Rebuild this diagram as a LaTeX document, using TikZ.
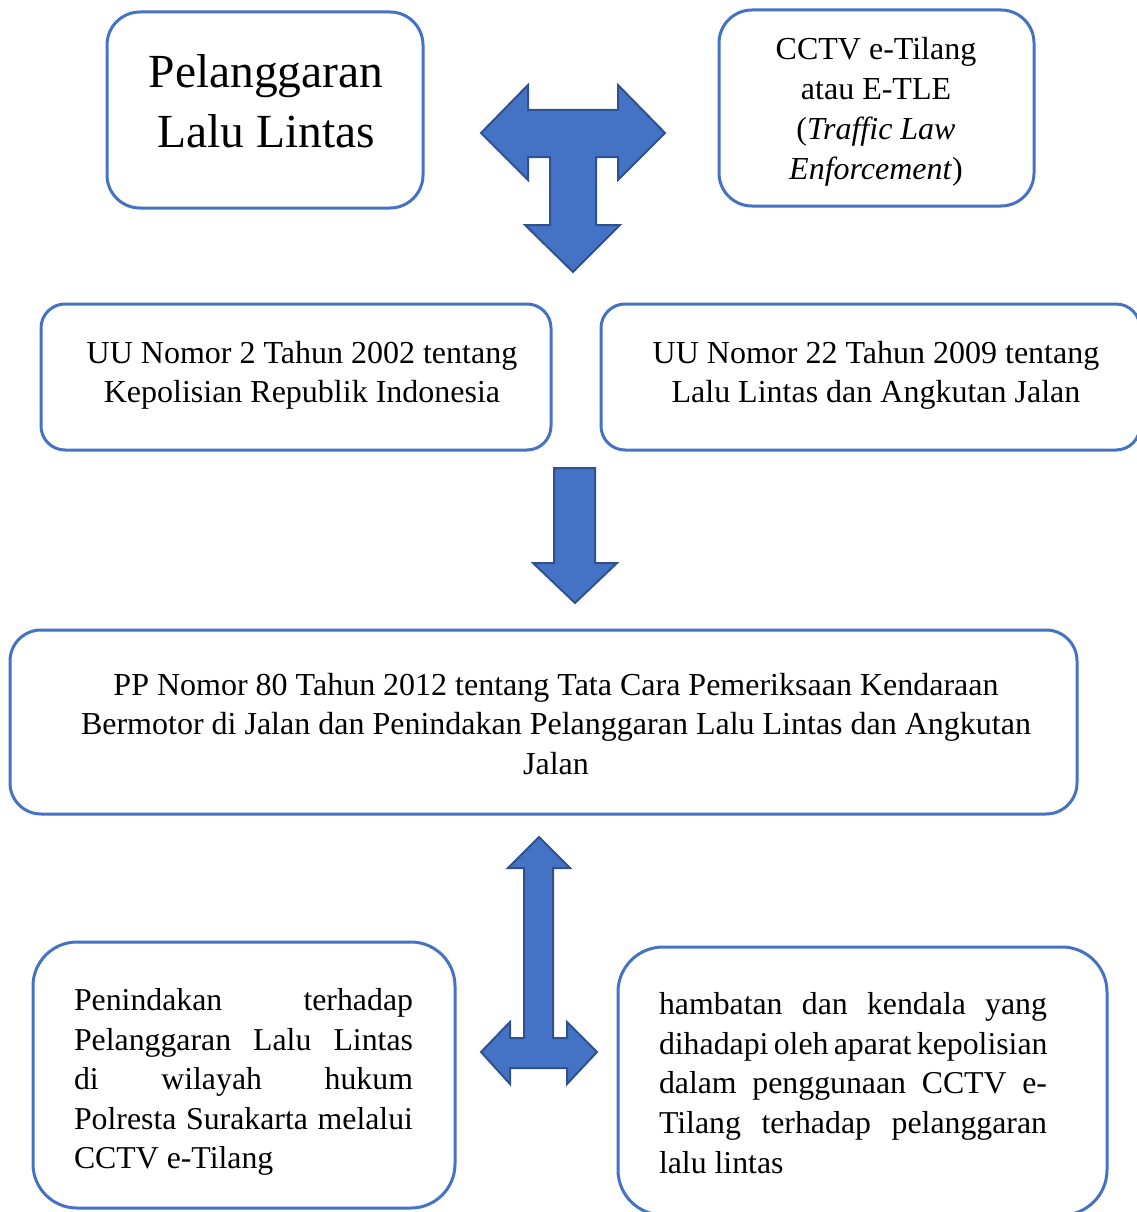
\documentclass[tikz,border=0pt]{standalone}
\usepackage{fontspec}
\setmainfont{Liberation Serif}
\definecolor{boxblue}{HTML}{4472C4}
\definecolor{arrowline}{HTML}{2F528F}
\begin{document}
\begin{tikzpicture}[x=1pt,y=-1pt,
  box/.style={draw=boxblue, line width=3pt, rectangle, inner sep=0pt, fill=white},
  blockarrow/.style={fill=boxblue, draw=arrowline, line width=2pt, line join=miter},
  txt/.style={inner sep=0pt, align=center, font=\fontsize{32}{39.5}\selectfont},
  bigtxt/.style={inner sep=0pt, align=center, font=\fontsize{47.5}{60}\selectfont},
  justtxt/.style={inner sep=0pt, align=left, font=\fontsize{31.8}{39.6}\selectfont}]
\useasboundingbox (0,0) rectangle (1136,1212);

% boxes
\node[box, minimum width=316pt, minimum height=196pt, rounded corners=33pt] (b1) at (265,110) {};
\node[box, minimum width=315pt, minimum height=196pt, rounded corners=33pt] (b2) at (876.5,108) {};
\node[box, minimum width=510pt, minimum height=146pt, rounded corners=24pt] (b3) at (296,377) {};
\node[box, minimum width=539pt, minimum height=146pt, rounded corners=24pt] (b4) at (870.5,377) {};
\node[box, minimum width=1067pt, minimum height=184pt, rounded corners=31pt] (b5) at (543.5,722) {};
\node[box, minimum width=422pt, minimum height=266pt, rounded corners=44pt] (b6) at (244,1075) {};
\node[box, minimum width=489pt, minimum height=268pt, rounded corners=45pt] (b7) at (862.5,1081) {};

% texts
\node[bigtxt] (t1) at (266,101) {Pelanggaran\\Lalu Lintas};
\node[txt, font=\fontsize{32}{40}\selectfont] (t2) at (876,112) {CCTV e-Tilang\\atau E-TLE\\(\textit{Traffic Law}\\\textit{Enforcement})};
\node[txt] (t3) at (302,375.5) {UU Nomor 2 Tahun 2002 tentang\\Kepolisian Republik Indonesia};
\node[txt] (t4) at (876,375.5) {UU Nomor 22 Tahun 2009 tentang\\Lalu Lintas dan Angkutan Jalan};
\node[txt] (t5) at (556,724) {PP Nomor 80 Tahun 2012 tentang Tata Cara Pemeriksaan Kendaraan\\Bermotor di Jalan dan Penindakan Pelanggaran Lalu Lintas dan Angkutan\\Jalan};
\node[justtxt] (t6) at (243.5,1082) {%
\makebox[339pt][s]{Penindakan terhadap}\\
\makebox[339pt][s]{Pelanggaran Lalu Lintas}\\
\makebox[339pt][s]{di wilayah hukum}\\
\makebox[339pt][s]{Polresta Surakarta melalui}\\
\makebox[339pt][l]{CCTV e-Tilang}};
\node[justtxt] (t7) at (853,1083) {%
\makebox[388pt][s]{hambatan dan kendala yang}\\
\makebox[388pt][s]{dihadapi oleh aparat kepolisian}\\
\makebox[388pt][s]{dalam penggunaan CCTV e-}\\
\makebox[388pt][s]{Tilang terhadap pelanggaran}\\
\makebox[388pt][l]{lalu lintas}};

% block arrows
\draw[blockarrow] (481,133) -- (528,85) -- (528,110) -- (618,110) -- (618,85) -- (665,133)
  -- (618,180) -- (618,157) -- (596,157) -- (596,225) -- (620,225) -- (573,272)
  -- (525,225) -- (550,225) -- (550,157) -- (528,157) -- (528,180) -- cycle;
\draw[blockarrow] (554,468) -- (595,468) -- (595,563) -- (617,563) -- (575,603)
  -- (533,563) -- (554,563) -- cycle;
\draw[blockarrow] (539,837) -- (570,868) -- (553,868) -- (553,1038) -- (567,1038)
  -- (567,1022) -- (597,1052) -- (567,1084) -- (567,1068) -- (510,1068) -- (510,1084)
  -- (481,1052) -- (510,1022) -- (510,1038) -- (524,1038) -- (524,868) -- (508,868) -- cycle;
\end{tikzpicture}
\end{document}
